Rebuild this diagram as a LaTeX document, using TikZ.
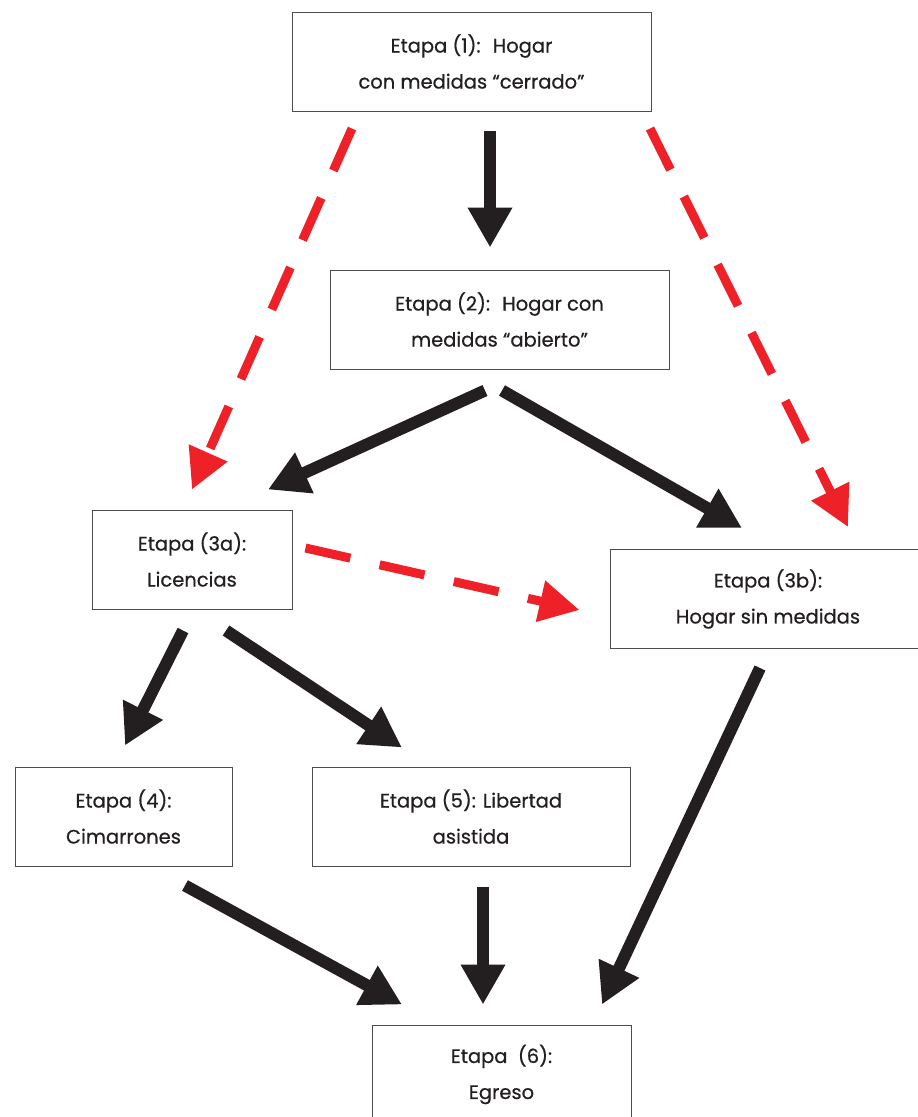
\documentclass[tikz,border=0pt]{standalone}
\usepackage{fontspec}
\setmainfont{Poppins}[FakeBold=0.6]
\usetikzlibrary{arrows.meta}
\definecolor{negro}{HTML}{231F20}
\definecolor{rojo}{HTML}{EE2129}

\begin{document}
\begin{tikzpicture}[x=1pt, y=-1pt,
    etapa/.style={draw=black!70, line width=1pt, fill=white, align=center, inner sep=0pt,
        minimum height=99pt, font=\fontsize{19.5}{36}\selectfont, text=negro},
    flecha/.style={draw=negro, line width=12pt, -{Triangle[length=40pt, width=42pt]}},
    salto/.style={draw=rojo, line width=9pt, dash pattern=on 46pt off 30pt,
        -{Triangle[length=40pt, width=40pt]}}]
    % Fix the page size
    \useasboundingbox (0,0) rectangle (918,1117);

    % Draw the stages
    \node[etapa, minimum width=359pt] (e1) at (471.5,61.5) {Etapa (1):~ Hogar\\con medidas “cerrado”};
    \node[etapa, minimum width=339pt] (e2) at (499.5,319.5) {Etapa (2):~ Hogar con\\medidas “abierto”};
    \node[etapa, minimum width=200pt] (e3a) at (192,559.5) {Etapa (3a):\\Licencias};
    \node[etapa, minimum width=316pt] (e3b) at (768,599) {Etapa (3b):\\Hogar sin medidas};
    \node[etapa, minimum width=217pt] (e4) at (123.5,816.5) {Etapa (4):\\Cimarrones};
    \node[etapa, minimum width=318pt] (e5) at (471,816.5) {Etapa (5): Libertad\\asistida};
    \node[etapa, minimum width=259pt] (e6) at (501.5,1074.5) {Etapa~ (6):\\Egreso};

    % Draw the main path
    \draw[flecha] ([xshift=18.5pt, yshift=-19pt]e1.south) -- ([xshift=-9.5pt, yshift=22pt]e2.north);
    \draw[flecha] ([xshift=-14.5pt, yshift=-21pt]e2.south) -- ([xshift=76pt, yshift=20pt]e3a.north);
    \draw[flecha] ([xshift=2.5pt, yshift=-21pt]e2.south) -- ([xshift=-26pt, yshift=21pt]e3b.north);
    \draw[flecha] ([xshift=-9pt, yshift=-21pt]e3a.south) -- ([xshift=1.5pt, yshift=21pt]e4.north);
    \draw[flecha] ([xshift=34pt, yshift=-21pt]e3a.south) -- ([xshift=-69pt, yshift=19pt]e5.north);
    \draw[flecha] ([xshift=61.5pt, yshift=-19pt]e4.south) -- ([xshift=-99.5pt, yshift=20pt]e6.north);
    \draw[flecha] ([xshift=12pt, yshift=-20pt]e5.south) -- ([xshift=-18.5pt, yshift=20pt]e6.north);
    \draw[flecha] ([xshift=-8pt, yshift=-19pt]e3b.south) -- ([xshift=100.5pt, yshift=20pt]e6.north);

    % Draw the shortcuts
    \draw[salto] ([xshift=-119.5pt, yshift=-17pt]e1.south) -- ([yshift=20pt]e3a.north);
    \draw[salto] ([xshift=178.5pt, yshift=-17pt]e1.south) -- ([xshift=80pt, yshift=22pt]e3b.north);
    \draw[salto] ([xshift=13pt, yshift=11.5pt]e3a.east) -- ([xshift=-30pt, yshift=-11pt]e3b.west);
\end{tikzpicture}
\end{document}
